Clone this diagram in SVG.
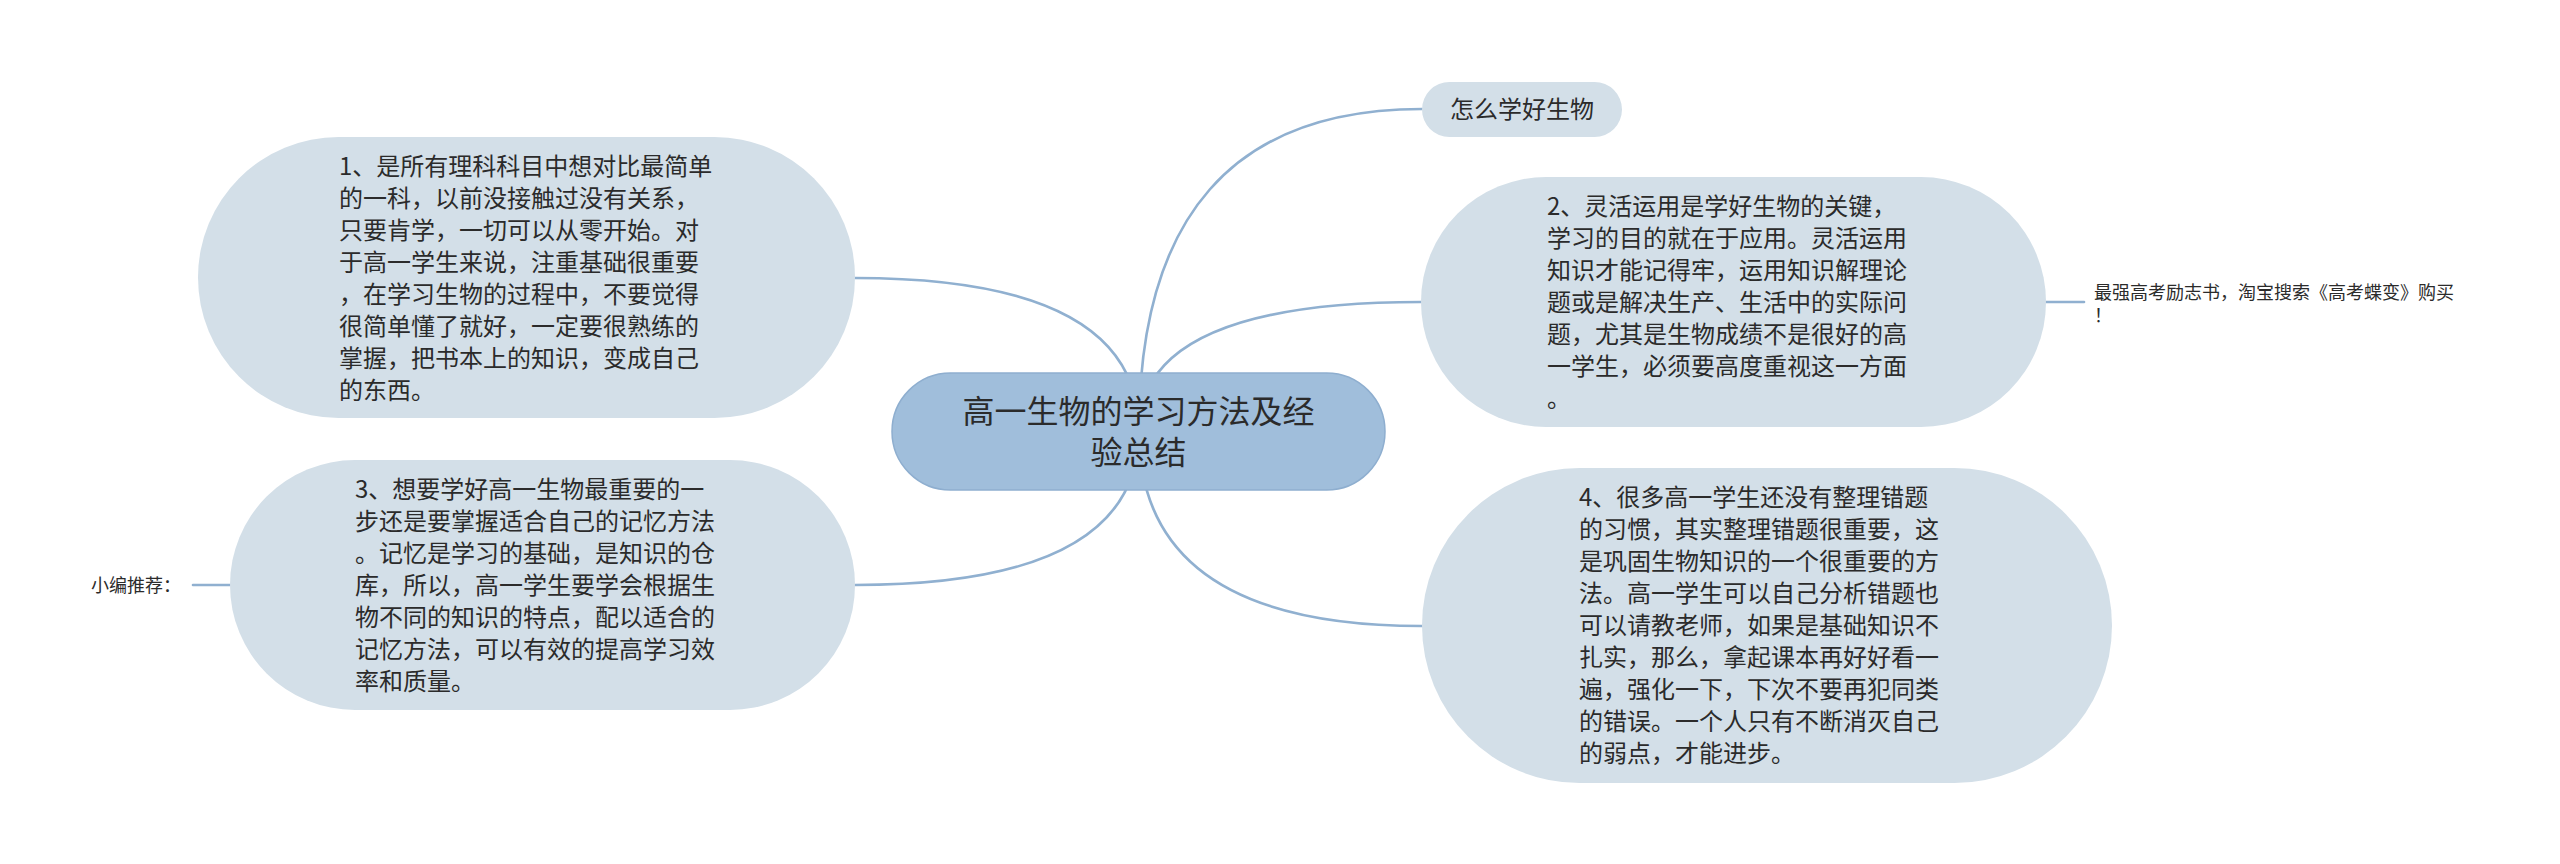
<svg xmlns="http://www.w3.org/2000/svg" width="2560" height="864" viewBox="0 0 2560 864">
<style>
.bg{fill:#ffffff}
.conn{fill:none;stroke:#90b0d0;stroke-width:2.6;stroke-linecap:round}
.child{fill:#d3dfe8}
.root{fill:#a0bedb;stroke:#8eaecf;stroke-width:1.5}
text{font-family:"Noto Sans CJK SC","Noto Sans",sans-serif;fill:#2b2b2b}
.t24{font-size:24px}
.t32{font-size:32px}
.t18{font-size:18px}
</style>
<rect class="bg" x="0" y="0" width="2560" height="864"/>
<g id="connectors">
<path class="conn" d="M1139,431 Q1139,278 855,278"/>
<path class="conn" d="M1139,431 Q1139,585 855,585"/>
<path class="conn" d="M1139,431 Q1139,109 1422,109"/>
<path class="conn" d="M1139,431 Q1139,302 1421,302"/>
<path class="conn" d="M1139,431 Q1139,626 1422,626"/>
<path class="conn" d="M2046,302 L2084,302"/>
<path class="conn" d="M230,585 L193,585"/>
</g>
<g id="root">
<rect class="root" x="892" y="373" width="493" height="117" rx="58.5"/>
<text class="t32" text-anchor="middle"><tspan x="1138.5" y="423">高一生物的学习方法及经</tspan><tspan x="1138.5" y="464">验总结</tspan></text>
</g>
<g id="node-how">
<rect class="child" x="1422" y="82" width="200" height="55" rx="27.5"/>
<text class="t24" x="1450" y="118">怎么学好生物</text>
</g>
<g id="node1">
<rect class="child" x="198" y="137" width="657" height="281" rx="140.5"/>
<text class="t24"><tspan x="339" y="175">1、是所有理科科目中想对比最简单</tspan><tspan x="339" y="207">的一科，以前没接触过没有关系，</tspan><tspan x="339" y="239">只要肯学，一切可以从零开始。对</tspan><tspan x="339" y="271">于高一学生来说，注重基础很重要</tspan><tspan x="339" y="303">，在学习生物的过程中，不要觉得</tspan><tspan x="339" y="335">很简单懂了就好，一定要很熟练的</tspan><tspan x="339" y="367">掌握，把书本上的知识，变成自己</tspan><tspan x="339" y="399">的东西。</tspan></text>
</g>
<g id="node2">
<rect class="child" x="1421" y="177" width="625" height="250" rx="125"/>
<text class="t24"><tspan x="1547" y="215">2、灵活运用是学好生物的关键，</tspan><tspan x="1547" y="247">学习的目的就在于应用。灵活运用</tspan><tspan x="1547" y="279">知识才能记得牢，运用知识解理论</tspan><tspan x="1547" y="311">题或是解决生产、生活中的实际问</tspan><tspan x="1547" y="343">题，尤其是生物成绩不是很好的高</tspan><tspan x="1547" y="375">一学生，必须要高度重视这一方面</tspan><tspan x="1547" y="407">。</tspan></text>
</g>
<g id="node2-note">
<text class="t18"><tspan x="2094" y="299">最强高考励志书，淘宝搜索《高考蝶变》购买</tspan><tspan x="2094" y="322">！</tspan></text>
</g>
<g id="node3">
<rect class="child" x="230" y="460" width="625" height="250" rx="125"/>
<text class="t24"><tspan x="355" y="498">3、想要学好高一生物最重要的一</tspan><tspan x="355" y="530">步还是要掌握适合自己的记忆方法</tspan><tspan x="355" y="562">。记忆是学习的基础，是知识的仓</tspan><tspan x="355" y="594">库，所以，高一学生要学会根据生</tspan><tspan x="355" y="626">物不同的知识的特点，配以适合的</tspan><tspan x="355" y="658">记忆方法，可以有效的提高学习效</tspan><tspan x="355" y="690">率和质量。</tspan></text>
</g>
<g id="node3-note">
<text class="t18" x="91" y="592">小编推荐：</text>
</g>
<g id="node4">
<rect class="child" x="1422" y="468" width="690" height="315" rx="157.5"/>
<text class="t24"><tspan x="1579" y="506">4、很多高一学生还没有整理错题</tspan><tspan x="1579" y="538">的习惯，其实整理错题很重要，这</tspan><tspan x="1579" y="570">是巩固生物知识的一个很重要的方</tspan><tspan x="1579" y="602">法。高一学生可以自己分析错题也</tspan><tspan x="1579" y="634">可以请教老师，如果是基础知识不</tspan><tspan x="1579" y="666">扎实，那么，拿起课本再好好看一</tspan><tspan x="1579" y="698">遍，强化一下，下次不要再犯同类</tspan><tspan x="1579" y="730">的错误。一个人只有不断消灭自己</tspan><tspan x="1579" y="762">的弱点，才能进步。</tspan></text>
</g>
</svg>
